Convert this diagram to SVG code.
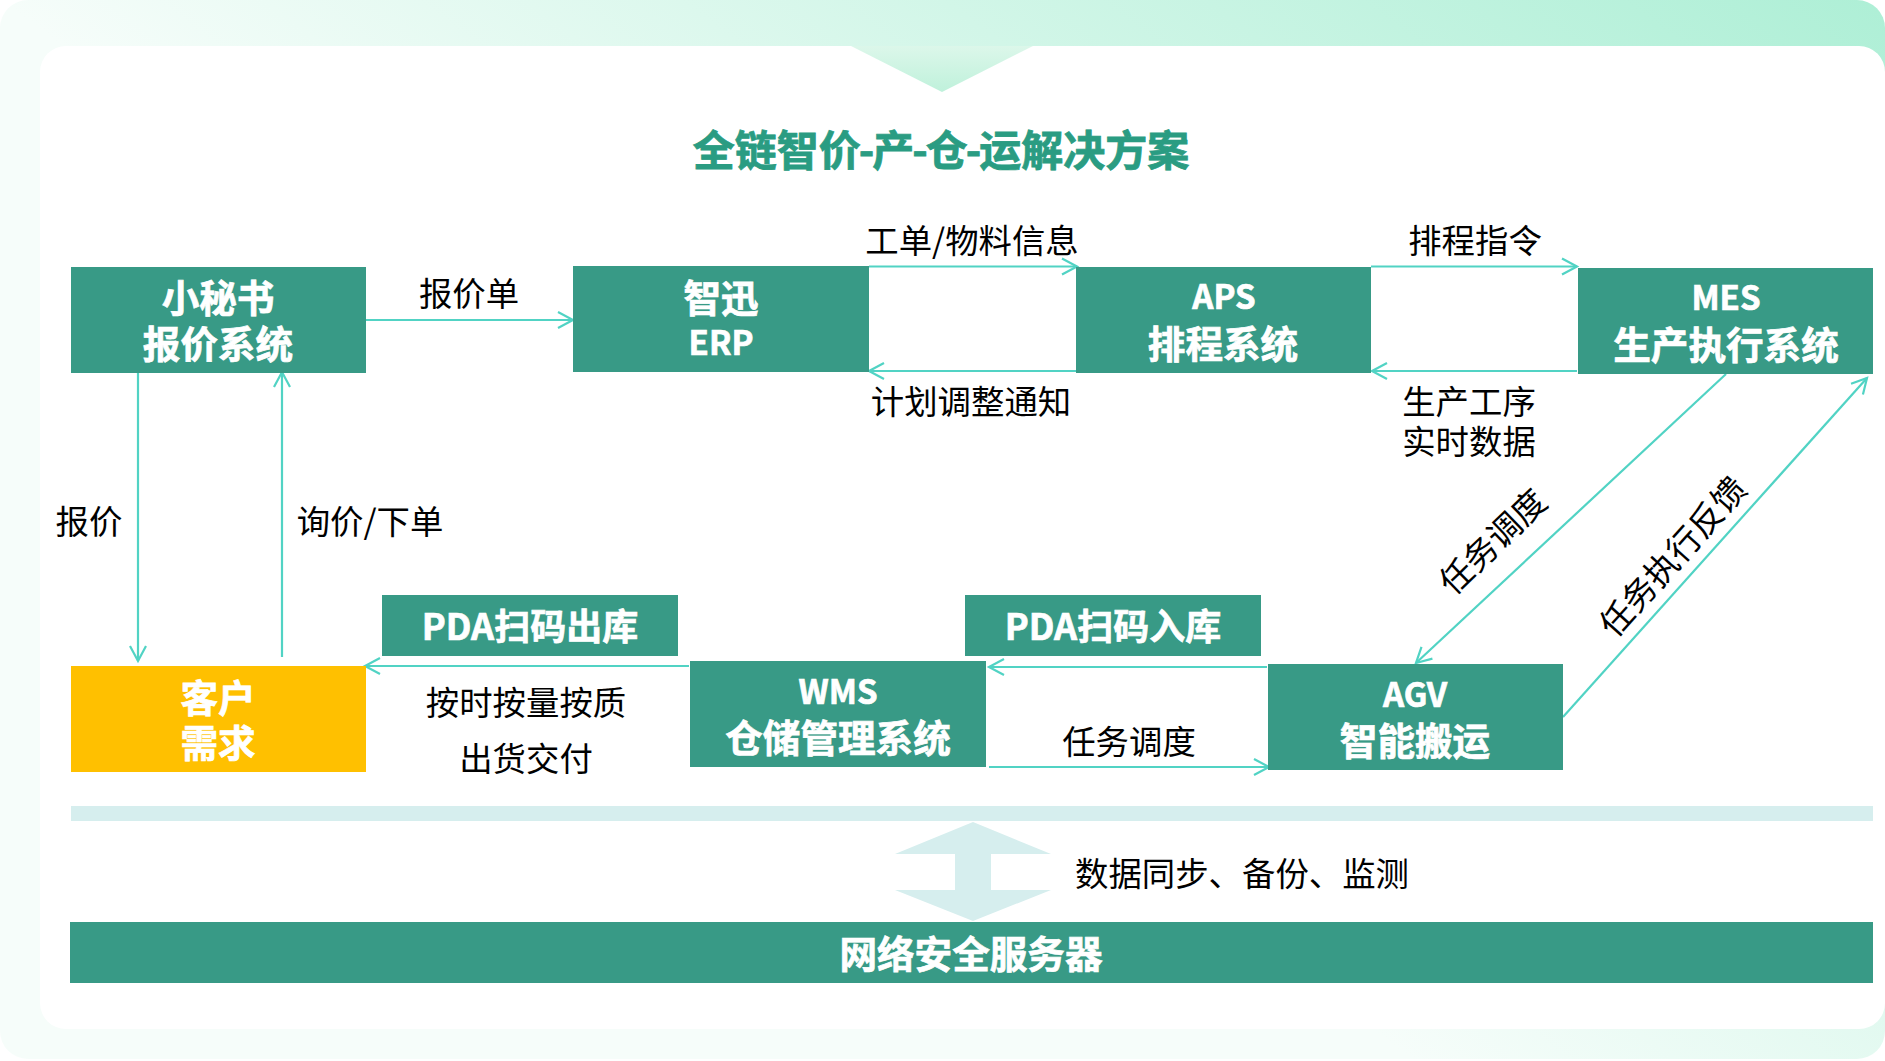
<svg xmlns="http://www.w3.org/2000/svg" width="1885" height="1061" viewBox="0 0 1885 1061">
<style>
.n{fill:#389a86}
.t,.l,.h{font-family:"Noto Sans CJK SC","Noto Sans",sans-serif;text-anchor:middle;dominant-baseline:central}
.t{font-weight:700;font-size:37.6px;fill:#fff;stroke:#fff;stroke-width:.7}
.s{font-size:33px}
.p{font-size:36px}
.l{font-size:33.4px;fill:#000}
.h{font-weight:700;font-size:42px;fill:#2a9c82;stroke:#2a9c82;stroke-width:.8}
.c{fill:none;stroke:#51d3c4;stroke-width:2.2;marker-end:url(#a)}
.b{fill:#d6eeee}
</style>
<defs>
<linearGradient id="bg" gradientUnits="userSpaceOnUse" x1="0" y1="0" x2="679" y2="-905">
<stop offset="0" stop-color="#f6fdfa"/><stop offset="1" stop-color="#aeefd6"/>
</linearGradient>
<linearGradient id="tri" x1="0" y1="0" x2="0" y2="1">
<stop offset="0" stop-color="#dcf7ea"/><stop offset="1" stop-color="#bff1db"/>
</linearGradient>
<marker id="a" markerUnits="userSpaceOnUse" markerWidth="20" markerHeight="20" refX="17" refY="10" orient="auto" overflow="visible">
<path d="M2,2 L17,10 L2,18" fill="none" stroke="#51d3c4" stroke-width="2.2"/>
</marker>
</defs>
<g id="background">
<rect x="0" y="0" width="1885" height="1059" rx="28" fill="url(#bg)"/>
<rect x="40" y="46" width="1845" height="983" rx="26" fill="#fff"/>
<polygon points="851,46 942,92 1033,46" fill="url(#tri)"/>
</g>
<text class="h" x="941" y="147">全链智价<tspan dx="-2">-</tspan><tspan dx="-2">产</tspan><tspan dx="-2">-</tspan><tspan dx="-2">仓</tspan><tspan dx="-2">-</tspan><tspan dx="-2">运解决方案</tspan></text>
<g id="connectors">
<path class="c" d="M366,320H573"/>
<path class="c" d="M869,266.5H1077"/>
<path class="c" d="M1371,266.5H1577"/>
<path class="c" d="M1076,371H869"/>
<path class="c" d="M1577,371H1372"/>
<path class="c" d="M1726,374L1416,663"/>
<path class="c" d="M1563,717L1867,378"/>
<path class="c" d="M138,372V661"/>
<path class="c" d="M282,657V372"/>
<path class="c" d="M689,666H365"/>
<path class="c" d="M1267,667H989"/>
<path class="c" d="M989,767H1269"/>
</g>
<g id="n-quote"><rect class="n" x="71" y="267" width="295" height="106"/><text class="t" x="218" y="295">小秘书</text><text class="t" x="218" y="341">报价系统</text></g>
<g id="n-erp"><rect class="n" x="573" y="266" width="296" height="106"/><text class="t" x="721" y="295">智迅</text><text class="t s" x="721" y="341">ERP</text></g>
<g id="n-aps"><rect class="n" x="1076" y="267" width="295" height="106"/><text class="t s" x="1224" y="295">APS</text><text class="t" x="1223" y="341">排程系统</text></g>
<g id="n-mes"><rect class="n" x="1578" y="268" width="295" height="106"/><text class="t s" x="1726" y="296">MES</text><text class="t" x="1726" y="342">生产执行系统</text></g>
<g id="n-customer"><rect x="71" y="666" width="295" height="106" fill="#ffc000"/><text class="t" x="218" y="695">客户</text><text class="t" x="218" y="740">需求</text></g>
<g id="n-pda-out"><rect class="n" x="382" y="595" width="296" height="61"/><text class="t p" x="530" y="624">PDA扫码出库</text></g>
<g id="n-pda-in"><rect class="n" x="965" y="595" width="296" height="61"/><text class="t p" x="1113" y="624">PDA扫码入库</text></g>
<g id="n-wms"><rect class="n" x="690" y="661" width="296" height="106"/><text class="t s" x="838" y="690">WMS</text><text class="t" x="838" y="735">仓储管理系统</text></g>
<g id="n-agv"><rect class="n" x="1268" y="664" width="295" height="106"/><text class="t s" x="1415" y="693">AGV</text><text class="t" x="1415" y="738">智能搬运</text></g>
<g id="n-bar"><rect class="b" x="71" y="806" width="1802" height="15"/></g>
<g id="n-sync"><polygon class="b" points="973,822 1051,854 991,854 991,890 1051,890 973,921 895,890 955,890 955,854 895,854"/></g>
<g id="n-server"><rect class="n" x="70" y="922" width="1803" height="61"/><text class="t" x="971" y="951">网络安全服务器</text></g>
<g id="labels">
<text class="l" x="469" y="291">报价单</text>
<text class="l" x="972" y="238">工单/物料信息</text>
<text class="l" x="1475" y="238">排程指令</text>
<text class="l" x="971" y="399">计划调整通知</text>
<text class="l" x="1469" y="399">生产工序</text>
<text class="l" x="1469" y="439">实时数据</text>
<text class="l" x="89" y="519">报价</text>
<text class="l" x="370" y="519">询价/下单</text>
<text class="l" x="526" y="700">按时按量按质</text>
<text class="l" x="526" y="756">出货交付</text>
<text class="l" x="1129" y="739">任务调度</text>
<text class="l" x="1242" y="871">数据同步、备份、监测</text>
<text class="l" transform="translate(1491,540) rotate(-44)">任务调度</text>
<text class="l" transform="translate(1671,555) rotate(-48)">任务执行反馈</text>
</g>
</svg>
